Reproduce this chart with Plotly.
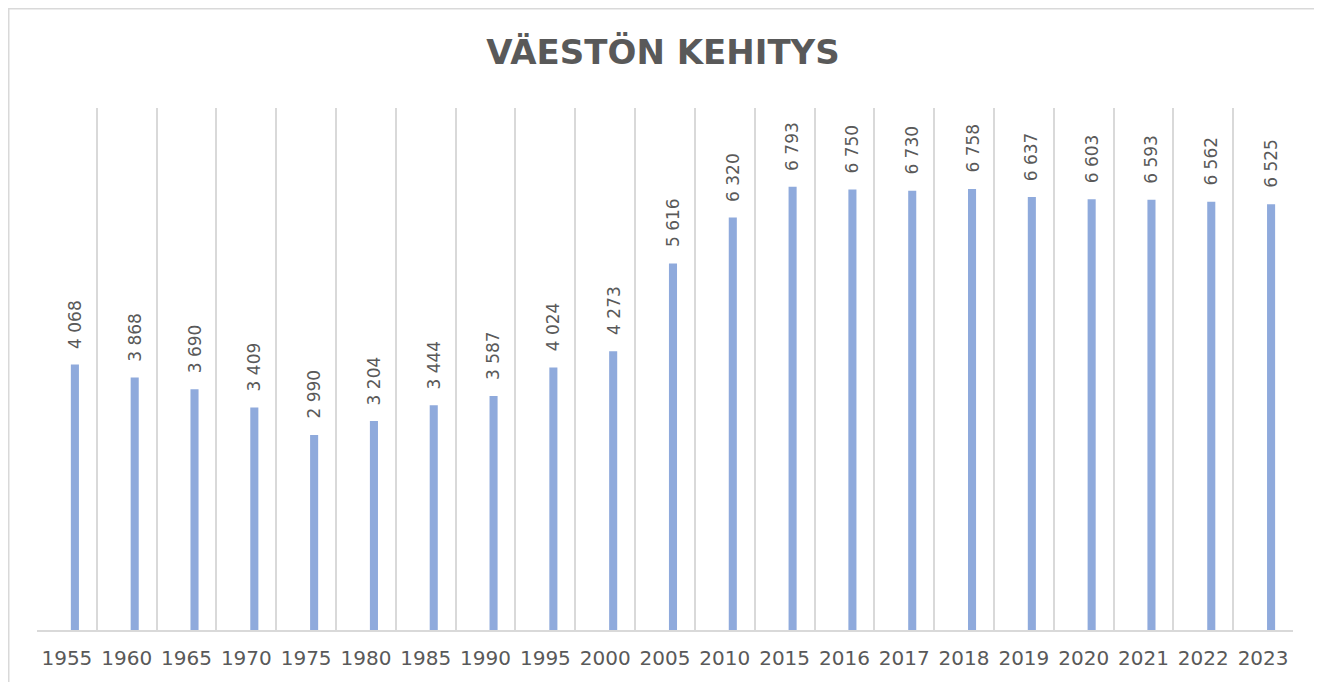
import plotly.graph_objects as go

years = ["1955", "1960", "1965", "1970", "1975", "1980", "1985", "1990", "1995", "2000",
         "2005", "2010", "2015", "2016", "2017", "2018", "2019", "2020", "2021", "2022", "2023"]
population = [4068, 3868, 3690, 3409, 2990, 3204, 3444, 3587, 4024, 4273,
              5616, 6320, 6793, 6750, 6730, 6758, 6637, 6603, 6593, 6562, 6525]
title_text = "VÄESTÖN KEHITYS"

# page has an 8px body margin, so the figure is drawn 8px right/down
W, H = 1314, 674
L, R, T, B = 29, 29, 100, 52
pw, ph = W - L - R, H - T - B

grey = "#595959"
grid = "#d9d9d9"
bar_color = "#8FAADC"

fig = go.Figure()
fig.add_trace(go.Bar(
    x=years, y=population,
    marker=dict(color=bar_color, line=dict(width=0)),
    width=0.135, offset=0.066,
    hoverinfo="x+y",
))

def fmt(v):
    return f"{v:,}".replace(",", " ")

annotations = []
for i, v in enumerate(population):
    annotations.append(dict(
        x=i, y=v, xref="x", yref="y",
        text=fmt(v), showarrow=False, textangle=-90,
        xanchor="center", yanchor="bottom", xshift=8, yshift=14,
        font=dict(family="DejaVu Sans", size=17, color=grey),
    ))

shapes = [dict(
    type="rect", xref="paper", yref="paper",
    x0=(0.75 - L) / pw, x1=(1313 - L) / pw,
    y0=(H - B - 720) / ph, y1=(H - B - 0.75) / ph,
    line=dict(color=grid, width=1.5), fillcolor="rgba(0,0,0,0)", layer="below",
)]

fig.update_layout(
    width=W, height=H, autosize=False,
    margin=dict(l=L, r=R, t=T, b=B, pad=0, autoexpand=False),
    paper_bgcolor="white", plot_bgcolor="white",
    showlegend=False,
    title=dict(text=f"<b>{title_text}</b>", x=(663 - 8) / W, xanchor="center",
               y=1 - (52 - 8) / H, yanchor="middle", yref="container",
               font=dict(family="DejaVu Sans", size=34, color=grey)),
    xaxis=dict(type="category", tickson="boundaries", showgrid=True, gridcolor=grid, gridwidth=1.5,
               showline=True, linecolor=grid, linewidth=1.5, ticks="", zeroline=False,
               ticklabelstandoff=9, tickangle=0, automargin=False,
               tickfont=dict(family="DejaVu Sans", size=20, color=grey),
               range=[-0.5, len(years) - 0.5], fixedrange=True),
    yaxis=dict(range=[0, 8000], visible=False, showgrid=False, zeroline=False, fixedrange=True,
               automargin=False),
    annotations=annotations,
    shapes=shapes,
)

fig.write_html("out.html")
